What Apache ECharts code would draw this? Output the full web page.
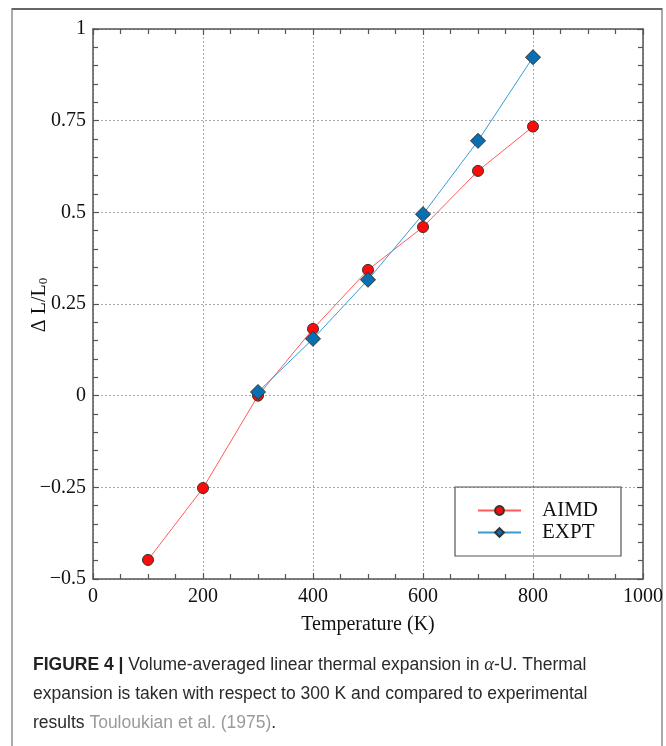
<!DOCTYPE html>
<html>
<head>
<meta charset="utf-8">
<script src="https://cdn.jsdelivr.net/npm/echarts@6/dist/echarts.min.js"></script>
<style>
  html, body { margin: 0; padding: 0; background: #fff; }
  #chart { width: 666px; height: 746px; }
</style>
</head>
<body>
<div id="chart"></div>
<script>
// Data
const temps = [100, 200, 300, 400, 500, 600, 700, 800];
const aimd = [-0.448, -0.252, 0.0, 0.182, 0.343, 0.46, 0.613, 0.734];
const exptTemps = [300, 400, 500, 600, 700, 800];
const expt = [0.01, 0.155, 0.316, 0.495, 0.695, 0.923];

const serif = '"Liberation Serif", "Times New Roman", serif';
const sans = '"Liberation Sans", Arial, sans-serif';
const axisColor = '#555';

const chart = echarts.init(document.getElementById('chart'));

// shared axis bits
const lineStyle = { onZero: false, lineStyle: { color: axisColor, width: 1.5 } };
const tickStyle = { show: true, inside: true, length: 6, lineStyle: { color: axisColor, width: 1.2 } };
const minor = n => ({ show: true, splitNumber: n, length: 5, lineStyle: { color: axisColor, width: 1.2 } });
const dotted = { show: true, lineStyle: { color: '#aaa', type: [2, 2], width: 1 } };
const fmtY = v => (v < 0 ? '\u2212' + Math.abs(v) : String(v));

chart.setOption({
    animation: false,
    grid: { left: 93, top: 29, width: 551, height: 550 },
    title: {
        left: 28,
        top: 646,
        text: '{b|FIGURE 4 |} Volume-averaged linear thermal expansion in {i|\u03b1}-U. Thermal\nexpansion is taken with respect to 300 K and compared to experimental\nresults {g|Touloukian et al. (1975)}.',
        textStyle: {
            fontFamily: sans, fontSize: 17.5, color: '#2a2a2a', fontWeight: 'normal', lineHeight: 29,
            rich: {
                b: { fontFamily: sans, fontSize: 17.5, fontWeight: 'bold', color: '#222', lineHeight: 29 },
                i: { fontFamily: serif, fontSize: 18.5, fontStyle: 'italic', color: '#2a2a2a', lineHeight: 29 },
                g: { fontFamily: sans, fontSize: 17.5, color: '#9a9a9a', lineHeight: 29 }
            }
        }
    },
    graphic: [
        { type: 'rect', shape: { x: 12, y: 9, width: 650, height: 800 }, style: { fill: 'none', stroke: '#aaa', lineWidth: 2 } },
        { type: 'line', shape: { x1: 12, y1: 9, x2: 662, y2: 9 }, style: { stroke: '#666', lineWidth: 2 } },
        // y axis title, rotated
        {
            type: 'text', x: 40, y: 305, rotation: Math.PI / 2,
            style: {
                text: '{a|\u0394 L/L}{s|0}',
                align: 'center', verticalAlign: 'middle',
                rich: {
                    a: { fontFamily: serif, fontSize: 20, fill: '#111' },
                    s: { fontFamily: serif, fontSize: 13, fill: '#111', padding: [8, 0, 0, 0] }
                }
            }
        }
    ],
    legend: {
        orient: 'vertical',
        left: 455,
        top: 487,
        padding: [13, 23, 13, 22],
        itemGap: 1,
        itemWidth: 43,
        itemHeight: 11,
        borderColor: '#555',
        borderWidth: 1.2,
        textStyle: { fontFamily: serif, fontSize: 21, color: '#111', padding: [0, 0, 0, 16] },
        data: ['AIMD', 'EXPT']
    },
    xAxis: [{
        type: 'value', min: 0, max: 1000, interval: 200,
        name: 'Temperature (K)', nameLocation: 'middle', nameGap: 36,
        nameTextStyle: { fontFamily: serif, fontSize: 20, color: '#111' },
        axisLine: lineStyle,
        axisTick: tickStyle,
        minorTick: minor(4),
        splitLine: dotted,
        axisLabel: { fontFamily: serif, fontSize: 20, color: '#111', margin: 8, formatter: v => String(v) }
    }, {
        type: 'value', position: 'top', min: 0, max: 1000, interval: 200,
        axisLine: lineStyle,
        axisTick: tickStyle, minorTick: minor(4),
        splitLine: { show: false }, axisLabel: { show: false }
    }],
    yAxis: [{
        type: 'value', min: -0.5, max: 1, interval: 0.25,
        axisLine: lineStyle,
        axisTick: tickStyle,
        minorTick: minor(5),
        splitLine: dotted,
        axisLabel: { fontFamily: serif, fontSize: 20, color: '#111', margin: 7, formatter: fmtY }
    }, {
        type: 'value', position: 'right', min: -0.5, max: 1, interval: 0.25,
        axisLine: lineStyle,
        axisTick: tickStyle, minorTick: minor(5),
        splitLine: { show: false }, axisLabel: { show: false }
    }],
    series: [{
        name: 'AIMD',
        type: 'line',
        data: temps.map((t, i) => [t, aimd[i]]),
        symbol: 'circle',
        symbolSize: 11,
        lineStyle: { color: '#ff5a5a', width: 1 },
        itemStyle: { color: '#ff0a0a', borderColor: '#333', borderWidth: 1 }
    }, {
        name: 'EXPT',
        type: 'line',
        data: exptTemps.map((t, i) => [t, expt[i]]),
        symbol: 'diamond',
        symbolSize: 15,
        lineStyle: { color: '#3a9ad4', width: 1 },
        itemStyle: { color: '#0a6fb0', borderColor: '#333', borderWidth: 1 }
    }]
});
</script>
</body>
</html>
